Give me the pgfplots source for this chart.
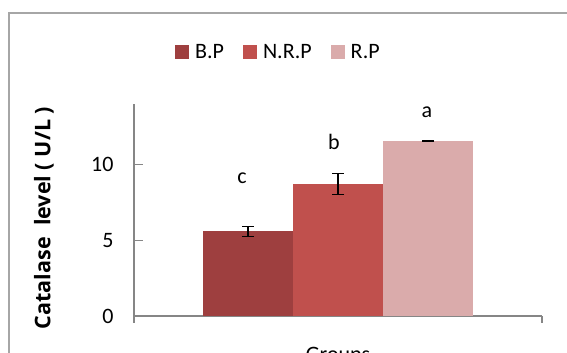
\documentclass[border=0pt]{standalone}
\usepackage{pgfplots}
\pgfplotsset{compat=1.18}
\usepackage{fontspec}
\setmainfont{Carlito}
\newfontfamily\ylabfont{Open Sans}
\definecolor{cBP}{HTML}{9E3F3F}
\definecolor{cNRP}{HTML}{C0504D}
\definecolor{cRP}{HTML}{DAABAB}
\definecolor{axgray}{HTML}{868686}
\definecolor{framegray}{HTML}{A6A6A6}
\begin{document}
\begin{tikzpicture}
\useasboundingbox (0,0) rectangle (567bp,353bp);
\draw[framegray, line width=1.2bp] (9bp,-30bp) -- (9bp,340bp) -- (620bp,340bp);
\begin{axis}[
  at={(134bp,37bp)}, anchor=south west,
  scale only axis, width=408bp, height=212bp,
  xmin=-1, xmax=1, ymin=0, ymax=14,
  axis x line*=bottom, axis y line*=left,
  axis line style={axgray, line width=1.2bp},
  ybar=0pt, bar width=90bp,
  xtick=\empty,
  ytick={0,5,10},
  y tick style={axgray, line width=1.2bp},
  tick align=inside,
  major tick length=9bp,
  /pgf/number format/assume math mode=true,
  tick label style={font=\fontsize{22bp}{26bp}\selectfont, black},
  yticklabel style={xshift=-17bp},
  xlabel={Groups}, xlabel style={font=\fontsize{22bp}{26bp}\selectfont, anchor=north, at={(rel axis cs:0.5,0)}, yshift=-28bp},
  legend columns=3,
  legend style={draw=none, fill=none, at={(rel axis cs:0.354,1.245)}, anchor=center,
    font=\fontsize{22bp}{26bp}\selectfont,
    /tikz/every odd column/.append style={column sep=4bp},
    /tikz/every even column/.append style={column sep=17bp}},
  legend image code/.code={\fill[#1, draw=none] (0bp,-7bp) rectangle (14bp,7bp);},
  error bars/y dir=both, error bars/y explicit,
  error bars/error bar style={black, line width=1.1bp},
  error bars/error mark options={rotate=90, mark size=6bp, line width=1.1bp, black},
  clip=false,
]
\addplot[fill=cBP, draw=none] coordinates {(0,5.6) +- (0,0.33)};
\addplot[fill=cNRP, draw=none] coordinates {(0,8.7) +- (0,0.7)};
\addplot[fill=cRP, draw=none] coordinates {(0,11.55) +- (0,0.02)};
\legend{B.P, N.R.P, R.P}
\draw[axgray, line width=1.2bp] (axis cs:-1,0) -- ([yshift=-7bp]axis cs:-1,0);
\draw[axgray, line width=1.2bp] (axis cs:1,0) -- ([yshift=-7bp]axis cs:1,0);
\node[anchor=base, font=\fontsize{22bp}{26bp}\selectfont] at (axis cs:0,8.75) [xshift=-96bp] {c};
\node[anchor=base, font=\fontsize{22bp}{26bp}\selectfont] at (axis cs:0,10.99) [xshift=-4bp] {b};
\node[anchor=base, font=\fontsize{22bp}{26bp}\selectfont] at (axis cs:0,13.09) [xshift=89bp] {a};
\end{axis}
\node[rotate=90, font=\fontsize{21.5bp}{25bp}\ylabfont\bfseries] at (44bp,135bp) {Catalase\ \ level ( U/L )};
\end{tikzpicture}
\end{document}
